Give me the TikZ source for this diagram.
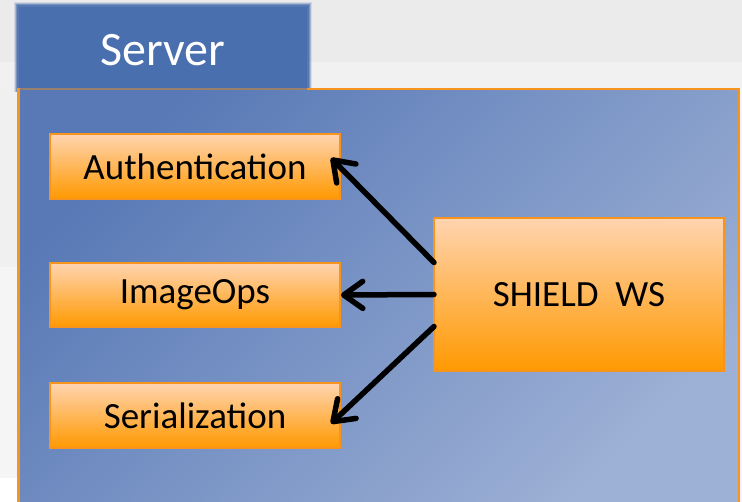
\documentclass[tikz,border=0pt]{standalone}
\usepackage{fontspec}
\setmainfont{Carlito}
\usetikzlibrary{arrows.meta,calc}

\definecolor{bgtop}{HTML}{EBEBEB}
\definecolor{bgband}{HTML}{F1F1F1}
\definecolor{bgleftA}{HTML}{F0F0F0}
\definecolor{bgleftB}{HTML}{F5F5F5}
\definecolor{tabblue}{HTML}{4A6FAF}
\definecolor{paneldark}{HTML}{5879B6}
\definecolor{panellight}{HTML}{9DB0D5}
\definecolor{edgeorange}{HTML}{F7941D}
\definecolor{boxtop}{HTML}{FFD4B0}
\definecolor{boxbottom}{HTML}{FF9900}

\tikzset{
  module/.style={draw=edgeorange, line width=2pt, top color=boxtop, bottom color=boxbottom,
    minimum width=290pt, inner sep=0pt, font=\fontsize{37}{40}\selectfont, text=black},
  call/.style={draw=black, line width=5.5pt, line cap=round,
    -{Straight Barb[length=19pt, width=27pt, round]}},
}

\begin{document}
\begin{tikzpicture}[x=1pt, y=-1pt]
\useasboundingbox (0,0) rectangle (742,502);

% page background bands
\fill[white] (0,0) rectangle (742,502);
\fill[bgtop] (0,0) rectangle (742,62);
\fill[bgband] (0,62) rectangle (742,88);
\fill[bgleftA] (0,88) rectangle (18,267);
\fill[bgleftB] (0,267) rectangle (18,478);
\fill[bgleftB] (740,88) rectangle (742,502);

% soft-edged title tab
\foreach \d/\o in {4/0.15, 3/0.3, 2/0.5, 1/0.75}{
  \fill[tabblue, opacity=\o] (18-\d,6-\d) rectangle (308+\d,92);
}
\fill[tabblue] (19,7) rectangle (307,92);
\node[text=white, font=\fontsize{48}{52}\selectfont] (tab) at (163,50) {Server};

% main panel
\shade[shading=axis, top color=paneldark, bottom color=panellight, shading angle=45]
  (19,89) rectangle (739,503);
\draw[edgeorange, line width=2.5pt] (18.25,503) -- (18.25,89) -- (738.75,89) -- (738.75,503);
\draw[color=tabblue!55!edgeorange, line width=2.5pt] (19.5,89) -- (306.5,89);

% modules
\node[module, minimum height=65pt] (auth) at (195,166.5) {Authentication};
\node[module, minimum height=64pt] (img) at (195,295) {ImageOps};
\node[module, minimum height=65pt] (ser) at (195,415.5) {Serialization};
\node[module, minimum height=153pt] (ws) at (579,294.5) {SHIELD\ \ WS};

% calls from the web service
\draw[call] ($(ws.west)+(1,-32)$) -- ($(auth.east)+(-10,-8.5)$);
\draw[call] ($(ws.west)+(1,0)$) -- (img.east);
\draw[call] ($(ws.west)+(1,32)$) -- ($(ser.east)+(-10,8)$);
\end{tikzpicture}
\end{document}
